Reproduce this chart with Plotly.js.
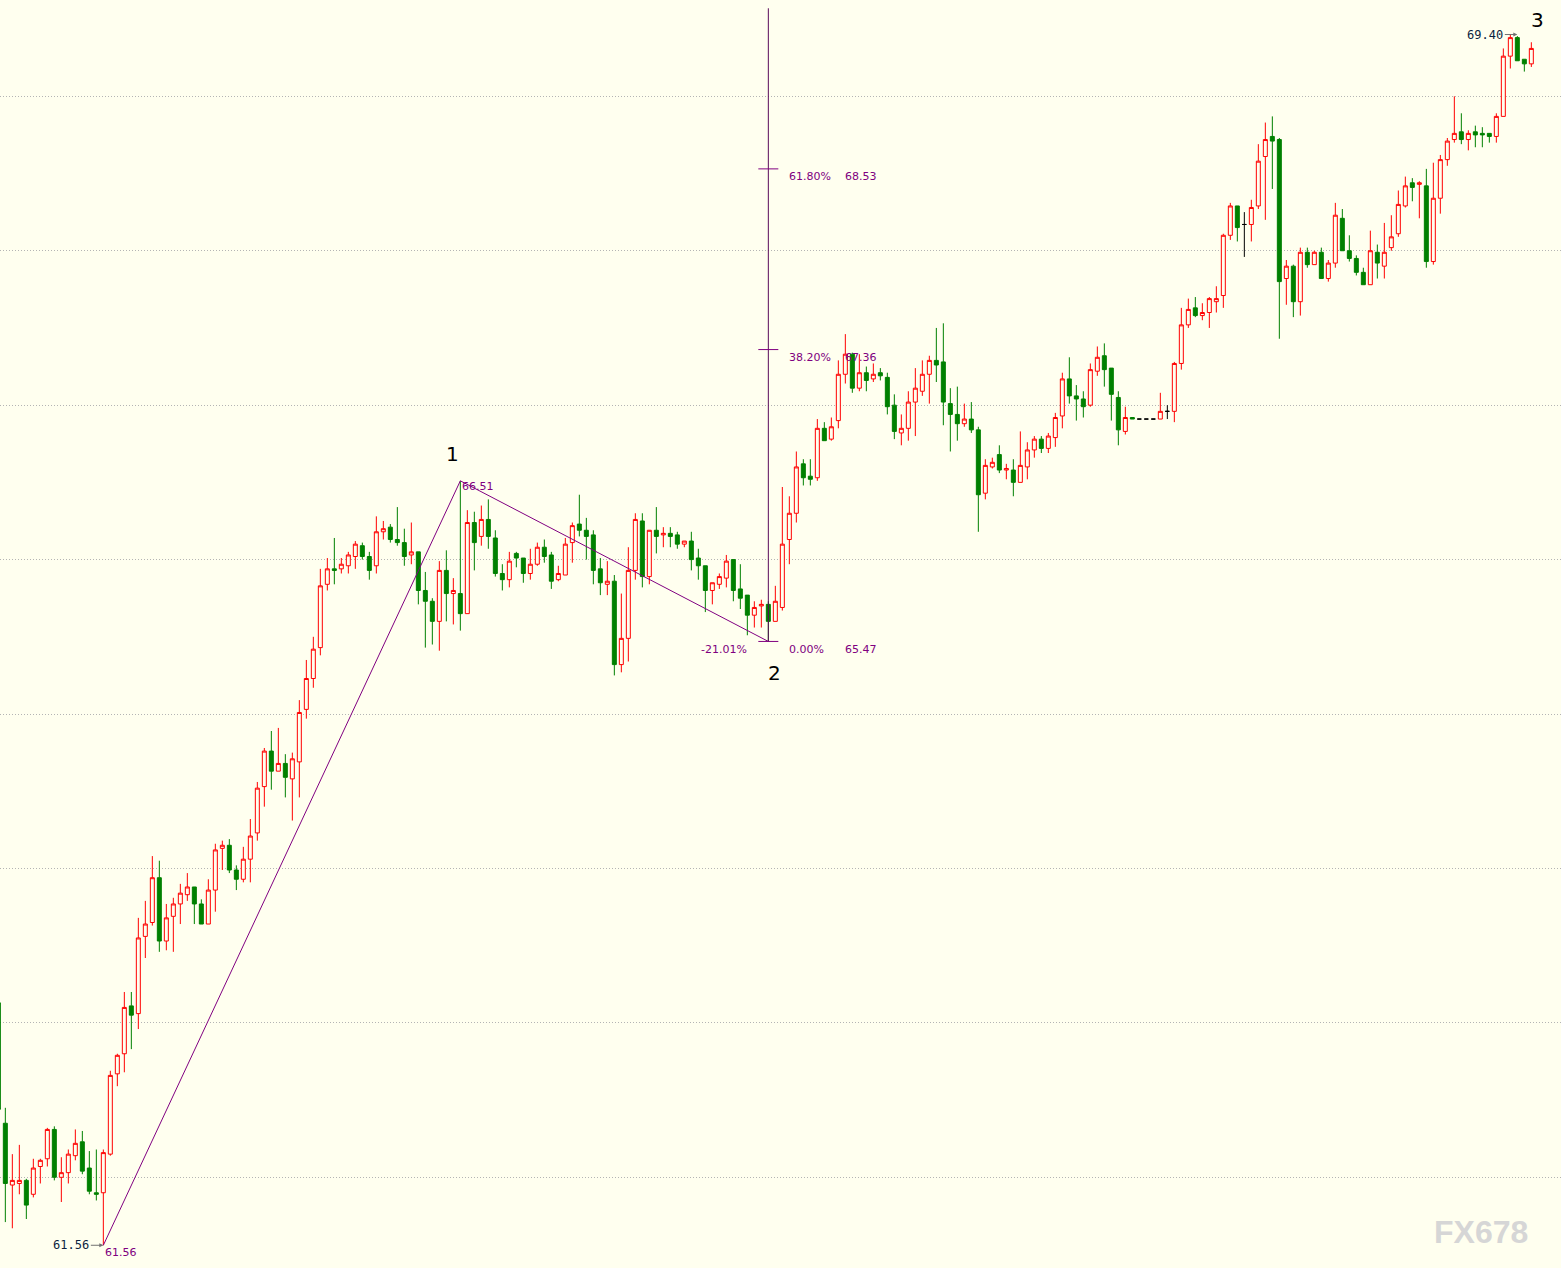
<!DOCTYPE html>
<html><head><meta charset="utf-8">
<script src="https://cdn.plot.ly/plotly-3.0.1.min.js"></script>
<style>html,body{margin:0;padding:0;background:#FFFFEF;overflow:hidden}#chart{width:1561px;height:1268px}</style>
</head><body><div id="chart"></div>
<script>
// daily bars, oldest first (first bar only partly visible at the left edge)
const barOpen = [
63.13,62.35,61.95,61.96,61.98,61.89,62.07,62.12,62.31,62.00,
62.03,62.14,62.23,62.06,61.90,61.90,62.15,62.67,62.80,63.11,
63.06,63.56,63.65,63.94,63.53,63.69,63.77,63.83,63.88,63.77,
63.64,63.86,64.13,64.15,63.99,63.93,64.06,64.23,64.53,64.76,
64.63,64.68,64.58,64.69,65.03,65.23,65.43,65.84,65.94,65.94,
65.96,66.02,66.09,66.02,65.96,66.18,66.21,66.13,66.11,66.03,
66.05,65.80,65.73,65.60,65.93,65.78,65.78,65.65,66.24,66.15,
66.26,66.14,65.91,65.87,66.04,66.01,65.91,65.97,66.08,66.03,
65.87,65.90,66.11,66.23,66.19,66.16,65.94,65.84,65.86,65.32,
65.49,65.93,66.25,65.89,66.19,66.16,66.17,66.16,66.10,66.12,
66.01,65.96,65.80,65.84,65.88,66.00,65.81,65.77,65.64,65.70,
65.71,65.60,65.69,66.13,66.30,66.62,66.54,66.53,66.85,66.78,
66.90,67.20,67.33,67.11,67.21,67.17,67.21,67.18,67.00,66.82,
66.85,67.02,67.09,67.20,67.29,67.28,67.01,66.94,66.88,66.91,
66.84,66.43,66.60,66.68,66.58,66.58,66.50,66.60,66.71,66.78,
66.72,66.79,66.93,67.17,67.06,67.04,67.00,67.22,67.32,67.24,
67.05,66.83,66.92,66.91,66.91,66.91,66.91,66.96,66.96,67.27,
67.52,67.63,67.58,67.60,67.67,67.71,68.10,68.29,68.17,68.17,
68.29,68.61,68.74,68.72,67.82,67.90,67.67,67.99,67.91,67.99,
67.82,67.92,68.21,68.00,67.95,67.86,67.78,67.99,67.90,68.02,
68.11,68.29,68.44,68.43,68.42,67.93,68.34,68.59,68.72,68.77,
68.72,68.77,68.76,68.76,68.74,68.87,69.26,69.38,69.24,69.21];
const barHigh = [
63.20,62.45,62.15,62.21,61.99,62.12,62.12,62.32,62.33,62.13,
62.18,62.31,62.30,62.17,62.18,62.18,62.69,62.80,63.20,63.20,
63.68,63.79,64.08,64.05,63.77,63.81,63.90,63.97,63.88,63.80,
63.93,64.16,64.18,64.19,64.02,64.14,64.32,64.56,64.78,64.89,
64.91,64.74,64.75,65.09,65.35,65.50,65.94,66.01,66.14,66.01,
66.05,66.12,66.11,66.05,66.28,66.25,66.23,66.34,66.20,66.24,
66.05,65.92,65.75,65.99,66.06,65.88,66.51,66.32,66.31,66.35,
66.39,66.19,65.97,66.05,66.05,66.01,66.07,66.11,66.13,66.05,
65.96,66.14,66.24,66.42,66.27,66.19,66.01,65.99,65.90,65.78,
66.08,66.30,66.30,66.19,66.34,66.21,66.21,66.18,66.12,66.18,
66.07,65.96,65.85,65.91,66.03,66.00,65.97,65.77,65.73,65.74,
65.73,65.83,66.47,66.41,66.70,66.65,66.65,66.91,66.89,66.92,
67.29,67.46,67.34,67.33,67.25,67.27,67.24,67.21,67.07,66.94,
67.09,67.24,67.29,67.32,67.50,67.53,67.11,67.12,67.01,67.02,
66.86,66.65,66.66,66.74,66.62,66.65,66.83,66.76,66.80,66.80,
66.82,66.95,67.21,67.31,67.13,67.09,67.27,67.38,67.40,67.24,
67.09,66.99,66.92,66.91,66.91,66.91,67.08,67.00,67.28,67.63,
67.69,67.70,67.66,67.70,67.77,68.11,68.31,68.29,68.25,68.33,
68.69,68.83,68.87,68.73,67.94,67.91,68.02,68.02,68.00,68.02,
67.94,68.31,68.27,68.10,67.97,67.89,68.13,68.04,68.18,68.23,
68.39,68.48,68.47,68.45,68.53,68.57,68.62,68.73,69.00,68.89,
68.78,68.81,68.80,68.76,68.89,69.31,69.40,69.39,69.24,69.35];
const barLow = [
62.30,61.71,61.67,61.89,61.73,61.87,61.96,62.07,61.98,61.84,
61.96,62.11,62.02,61.89,61.85,61.56,62.14,62.59,62.68,62.83,
62.96,63.42,63.63,63.46,63.47,63.46,63.64,63.79,63.64,63.64,
63.64,63.72,63.99,63.97,63.86,63.91,63.91,64.18,64.40,64.51,
64.63,64.46,64.31,64.46,64.97,65.17,65.38,65.80,65.84,65.91,
65.91,65.94,66.00,65.87,65.91,66.13,66.11,66.09,65.96,65.97,
65.71,65.43,65.45,65.41,65.60,65.58,65.54,65.65,65.93,66.09,
66.07,65.89,65.80,65.82,65.95,65.85,65.87,65.96,65.98,65.81,
65.86,65.90,65.98,66.15,66.00,65.84,65.77,65.77,65.25,65.27,
65.34,65.87,65.82,65.84,66.04,66.08,66.08,66.07,66.08,65.93,
65.87,65.66,65.71,65.81,65.82,65.73,65.68,65.51,65.56,65.56,
65.47,65.60,65.67,65.97,66.24,66.48,66.48,66.51,66.77,66.77,
66.85,67.14,67.08,67.09,67.09,67.15,67.16,66.94,66.78,66.74,
66.77,66.80,67.06,67.01,67.15,66.87,66.70,66.77,66.86,66.82,
66.18,66.39,66.59,66.56,66.52,66.41,66.50,66.52,66.66,66.69,
66.69,66.73,66.85,67.01,66.90,66.92,66.99,67.19,67.12,66.90,
66.74,66.81,66.91,66.91,66.91,66.91,66.91,66.91,66.89,67.23,
67.50,67.57,67.55,67.50,67.60,67.63,68.07,68.06,67.96,68.06,
68.27,68.20,68.40,67.43,67.65,67.57,67.58,67.89,67.91,67.82,
67.80,67.89,68.00,67.93,67.84,67.78,67.78,67.82,67.82,68.00,
68.09,68.28,68.32,68.21,67.89,67.91,68.24,68.55,68.70,68.69,
68.65,68.67,68.67,68.70,68.70,68.87,69.18,69.23,69.16,69.19];
const barClose = [
62.44,61.96,61.98,61.98,61.82,62.06,62.11,62.31,62.00,62.03,
62.15,62.22,62.04,61.91,61.89,62.16,62.66,62.79,63.10,63.05,
63.55,63.64,63.94,63.53,63.68,63.77,63.84,63.88,63.77,63.64,
63.86,64.12,64.15,63.99,63.93,64.06,64.21,64.52,64.76,64.63,
64.68,64.59,64.71,65.01,65.23,65.42,65.83,65.94,65.93,65.97,
66.03,66.10,66.02,65.93,66.18,66.20,66.13,66.11,66.02,66.05,
65.80,65.73,65.60,65.93,65.78,65.80,65.65,66.24,66.11,66.26,
66.15,65.91,65.87,65.99,66.01,65.91,65.97,66.08,66.02,65.86,
65.91,66.10,66.22,66.19,66.15,65.93,65.85,65.86,65.32,65.49,
65.93,66.26,65.89,66.19,66.15,66.17,66.15,66.10,66.12,66.00,
65.96,65.80,65.85,65.89,65.99,65.80,65.75,65.64,65.69,65.71,
65.60,65.73,66.10,66.30,66.60,66.53,66.52,66.85,66.77,66.86,
67.20,67.33,67.11,67.21,67.16,67.20,67.19,66.99,66.83,66.85,
67.02,67.11,67.20,67.29,67.26,67.02,66.94,66.88,66.91,66.84,
66.42,66.61,66.63,66.58,66.59,66.50,66.61,66.71,66.78,66.72,
66.80,66.92,67.17,67.06,67.04,66.99,67.23,67.31,67.23,67.07,
66.84,66.92,66.91,66.91,66.91,66.91,66.96,66.96,67.27,67.52,
67.62,67.58,67.60,67.69,67.69,68.10,68.29,68.15,68.17,68.28,
68.58,68.72,68.71,67.80,67.90,67.67,67.99,67.91,67.99,67.82,
67.92,68.23,68.00,67.95,67.86,67.78,68.00,67.92,67.99,68.09,
68.30,68.42,68.41,68.44,67.93,68.34,68.59,68.71,68.76,68.72,
68.76,68.75,68.75,68.74,68.87,69.26,69.38,69.23,69.21,69.31];

// wave count (bar number, price)
const waveBars = [15, 66, 110];
const wavePrices = [61.56, 66.51, 65.47];
const waveLabels = ['1', '2', '3'];
const waveLabelBars = [66, 110, 217];
const waveLabelPrices = [66.51, 65.47, 69.40];

// Fibonacci projection drawn from wave 2 low
const fibBar = 110;
const fibRatios = ['0.00%', '38.20%', '61.80%'];
const fibPrices = [65.47, 67.36, 68.53];
const fibTop = 69.57;
const retraceLabel = '-21.01%';

// extreme price markers
const extremeBars = [15, 217];
const extremePrices = [61.56, 69.40];
const extremeLabels = ['61.56', '69.40'];

const BG = '#FFFFEF';
const PURPLE = '#800080';

const barIndex = barOpen.map((_, i) => i);
function pick(test) {
  const idx = barIndex.filter(test);
  return {
    x: idx,
    open: idx.map(i => barOpen[i]),
    high: idx.map(i => barHigh[i]),
    low: idx.map(i => barLow[i]),
    close: idx.map(i => barClose[i])
  };
}
function candle(sel, lineCol, fillCol) {
  return Object.assign({
    type: 'candlestick',
    increasing: {line: {color: lineCol, width: 1}, fillcolor: fillCol},
    decreasing: {line: {color: lineCol, width: 1}, fillcolor: fillCol},
    whiskerwidth: 0,
    hoverinfo: 'skip',
    showlegend: false
  }, sel);
}
const upBars = pick(i => barClose[i] > barOpen[i]);
const downBars = pick(i => barClose[i] < barOpen[i]);
const flatBars = pick(i => barClose[i] === barOpen[i]);

const traces = [
  candle(upBars, '#FF0000', BG),
  candle(downBars, '#008000', '#008000'),
  candle(flatBars, '#000000', '#000000'),
  {type: 'scatter', mode: 'lines', x: waveBars, y: wavePrices,
   line: {color: PURPLE, width: 1}, hoverinfo: 'skip', showlegend: false}
];

const shapes = [
  {type: 'line', xref: 'x', yref: 'y', x0: fibBar, x1: fibBar, y0: fibPrices[0], y1: fibTop,
   line: {color: '#5a0a5a', width: 1}}
];
fibPrices.forEach(p => shapes.push({type: 'line', xref: 'x', yref: 'y',
  x0: fibBar - 1.43, x1: fibBar + 1.43, y0: p, y1: p, line: {color: PURPLE, width: 1}}));

const pFont = {family: 'DejaVu Sans', size: 11, color: PURPLE};
const annotations = [];
fibRatios.forEach((r, i) => {
  annotations.push({xref: 'x', yref: 'y', x: fibBar, y: fibPrices[i], text: r, showarrow: false,
    xanchor: 'left', yanchor: 'middle', xshift: 19, yshift: -8, font: pFont});
  annotations.push({xref: 'x', yref: 'y', x: fibBar, y: fibPrices[i], text: fibPrices[i].toFixed(2), showarrow: false,
    xanchor: 'left', yanchor: 'middle', xshift: 75, yshift: -8, font: pFont});
});
annotations.push({xref: 'x', yref: 'y', x: fibBar, y: fibPrices[0], text: retraceLabel, showarrow: false,
  xanchor: 'right', yanchor: 'middle', xshift: -19, yshift: -8, font: pFont});
// wave end prices in purple
annotations.push({xref: 'x', yref: 'y', x: waveBars[1], y: wavePrices[1], text: wavePrices[1].toFixed(2), showarrow: false,
  xanchor: 'left', yanchor: 'middle', xshift: 0, yshift: -6, font: pFont});
annotations.push({xref: 'x', yref: 'y', x: waveBars[0], y: wavePrices[0], text: wavePrices[0].toFixed(2), showarrow: false,
  xanchor: 'left', yanchor: 'middle', xshift: 0, yshift: -7, font: pFont});
// extreme markers with arrow
extremeBars.forEach((b, i) => annotations.push({xref: 'x', yref: 'y', x: b, y: extremePrices[i],
  text: extremeLabels[i], showarrow: true, ax: -32, ay: 0, arrowhead: 2, arrowsize: 0.8, arrowwidth: 1,
  arrowcolor: '#707070', standoff: 0, startstandoff: 0,
  font: {family: 'DejaVu Sans Mono', size: 12, color: '#0b1f3f'}}));
// wave numbers
const waveShift = [[-8, 27], [6, -32], [20, 15]];
waveLabels.forEach((t, i) => annotations.push({xref: 'x', yref: 'y', x: waveLabelBars[i], y: waveLabelPrices[i],
  text: t, showarrow: false, xanchor: 'center', yanchor: 'middle', xshift: waveShift[i][0], yshift: waveShift[i][1],
  font: {family: 'DejaVu Sans', size: 20, color: '#000000'}}));
// watermark
annotations.push({xref: 'paper', yref: 'paper', x: 1481 / 1561, y: 1 - 1232 / 1268, text: '<b>FX678</b>',
  showarrow: false, xanchor: 'center', yanchor: 'middle',
  font: {family: 'Liberation Sans', size: 32, color: '#d6d6d6'}});

const layout = {
  width: 1561, height: 1268,
  margin: {l: 0, r: 0, t: 0, b: 0, pad: 0},
  paper_bgcolor: BG, plot_bgcolor: BG,
  showlegend: false,
  boxgap: 0.43, boxgroupgap: 0,
  xaxis: {range: [1.67 / 7, (1561 + 1.67) / 7], showgrid: false, zeroline: false, showticklabels: false,
          showline: false, ticks: '', rangeslider: {visible: false}, fixedrange: true},
  yaxis: {range: [61.4127, 69.6236], dtick: 1, tick0: 0, showgrid: true, gridcolor: '#b4b4b4', griddash: '1px,2px',
          gridwidth: 1, zeroline: false, showticklabels: false, showline: false, ticks: '', fixedrange: true},
  shapes: shapes,
  annotations: annotations
};
Plotly.newPlot('chart', traces, layout, {displayModeBar: false, staticPlot: true});
</script>
</body></html>
